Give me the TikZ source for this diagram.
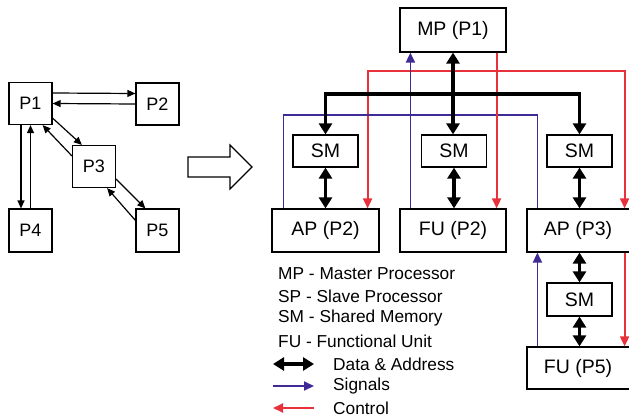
\documentclass[tikz,border=0pt]{standalone}
\usepackage{fontspec}
\setmainfont{Liberation Sans}
\usetikzlibrary{arrows.meta}
\definecolor{sigblue}{RGB}{64,42,150}
\definecolor{ctrlred}{RGB}{232,49,58}
\tikzset{
  pbox/.style={draw, line width=1.2pt, inner sep=0pt, minimum width=43pt, minimum height=42pt, font=\fontsize{18}{21}\selectfont},
  ubox/.style={draw, line width=1.2pt, inner sep=0pt, minimum width=106pt, minimum height=43pt, font=\fontsize{19.5}{23}\selectfont},
  smbox/.style={draw, line width=1.2pt, inner sep=0pt, minimum width=65pt, minimum height=32pt, font=\fontsize{19.5}{23}\selectfont},
  thinarr/.style={line width=1.2pt, -{Triangle[width=7pt,length=8pt]}},
  data/.style={line width=3.4pt, {Triangle[width=13pt,length=11pt]}-{Triangle[width=13pt,length=11pt]}},
  sig/.style={sigblue, line width=1.8pt, arrows={-Triangle[width=9pt,length=10pt]}},
  ctrl/.style={ctrlred, line width=1.8pt, arrows={-Triangle[width=9pt,length=10pt]}},
  legtext/.style={anchor=west, inner sep=0pt, font=\fontsize{17.3}{20}\selectfont}
}
\begin{document}
\begin{tikzpicture}[x=1pt,y=-1pt]
\useasboundingbox (0,0) rectangle (629,420);
\clip (0,0) rectangle (629,420);
% left graph
\node[pbox] (p1) at (30.5,103.5) {P1};
\node[pbox] (p2) at (157.5,104) {P2};
\node[pbox] (p3) at (94,166.5) {P3};
\node[pbox, minimum height=43pt] (p4) at (30.5,230.5) {P4};
\node[pbox, minimum height=43pt] (p5) at (157.5,230.5) {P5};
\draw[thinarr] ([yshift=10.5pt]p1.east) -- ([yshift=10.5pt]p2.west);
\draw[thinarr] (p2.west) -- (p1.east);
\draw[thinarr] ([xshift=-9.5pt]p1.south) -- ([xshift=-9.5pt]p4.north);
\draw[thinarr] (p4.north) -- (p1.south);
\draw[thinarr] ([yshift=7pt]p1.south east) -- ([xshift=10pt]p3.north west);
\draw[thinarr] ([yshift=-11pt]p3.north west) -- ([xshift=-10pt]p1.south east);
\draw[thinarr] ([yshift=9pt]p3.south east) -- ([xshift=10pt]p5.north west);
\draw[thinarr] ([yshift=-12pt]p5.north west) -- ([xshift=-9pt]p3.south east);
% big arrow
\draw[line width=1.2pt] (188,157) -- (230,157) -- (230,145) -- (252,167) -- (230,189) -- (230,177) -- (188,177) -- cycle;
% right part
\node[ubox, minimum height=44pt] (mp) at (453,30) {MP (P1)};
\node[smbox] (sm1) at (325.5,151) {SM};
\node[smbox] (sm2) at (454,151) {SM};
\node[smbox] (sm3) at (579.5,151) {SM};
\node[ubox, minimum width=107pt] (ap2) at (325.5,230.5) {AP (P2)};
\node[ubox] (fu2) at (453,230.5) {FU (P2)};
\node[ubox, minimum width=108pt] (ap3) at (581,230.5) {\hspace*{-6pt}AP (P3)};
\node[smbox, minimum height=33pt] (sm4) at (579.5,299.5) {SM};
\node[ubox, minimum width=108pt, minimum height=42pt] (fu5) at (581,368) {\hspace*{-6pt}FU (P5)};
\coordinate (bus) at (450,94);
\coordinate (ctl) at (450,71);
\coordinate (sg) at (450,115);
\draw[ctrl, arrows={Triangle[width=9pt,length=10pt]-Triangle[width=9pt,length=10pt]}] ([xshift=-12pt]ap2.north east) |- (ctl) -| ([xshift=-11pt]ap3.north east);
\draw[sig, arrows=-] ([xshift=12pt]ap2.north west) |- (sg) -| ([xshift=11pt]ap3.north west);
\draw[sig] ([xshift=11pt]fu2.north west) -- ([xshift=11pt]mp.south west);
\draw[ctrl] ([xshift=-10pt]mp.south east) -- ([xshift=-10pt]fu2.north east);
\draw[data] (sm1.north) |- (bus) -| (sm3.north);
\draw[data] (mp.south) -- (mp.south |- sm2.north);
\draw[data] (sm1.south) -- (ap2.north);
\draw[data] (sm2.south) -- (sm2.south |- fu2.north);
\draw[data] (sm3.south) -- (sm3.south |- ap3.north);
\draw[data] (sm4.north) -- (sm4.north |- ap3.south);
\draw[data] (sm4.south) -- (sm4.south |- fu5.north);
\draw[sig] ([xshift=11pt]fu5.north west) -- ([xshift=11pt]ap3.south west);
\draw[ctrl] ([xshift=-11pt]ap3.south east) -- ([xshift=-11pt]fu5.north east);
% legend
\node[legtext] (lmp) at (278,274) {MP - Master Processor};
\node[legtext] (lsp) at (278,296) {SP - Slave Processor};
\node[legtext] (lsm) at (278,318.5) {SM - Shared Memory};
\node[legtext] (lfu) at (278,341) {FU - Functional Unit};
\node[legtext] (ldat) at (333,364) {Data \& Address};
\node[legtext] (lsig) at (333,386) {Signals};
\node[legtext] (lctl) at (333,408) {Control};
\coordinate (da) at (273,364); \coordinate (db) at (314,364);
\coordinate (sa) at (273,386); \coordinate (sb) at (314,386);
\coordinate (ca) at (314,408); \coordinate (cb) at (273,408);
\draw[data] (da) -- (db);
\draw[sig] (sa) -- (sb);
\draw[ctrl] (ca) -- (cb);
\end{tikzpicture}
\end{document}
